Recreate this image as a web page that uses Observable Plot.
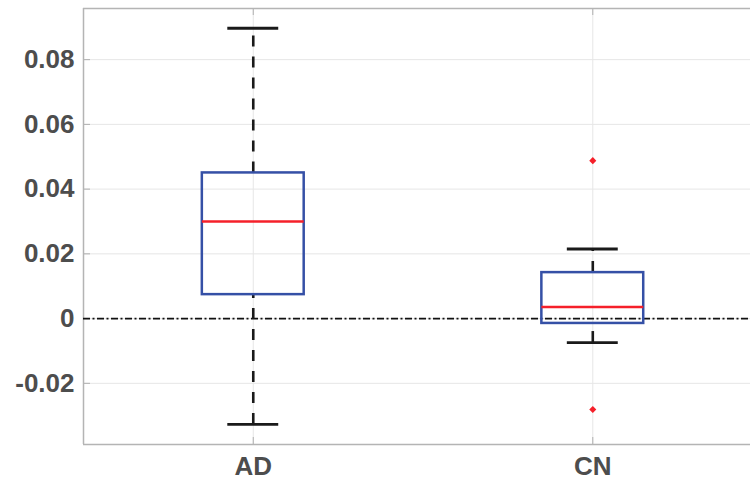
<!DOCTYPE html>
<html>
<head>
<meta charset="utf-8">
<script src="https://cdn.jsdelivr.net/npm/d3@7"></script>
<script src="https://cdn.jsdelivr.net/npm/@observablehq/plot@0.6"></script>
<style>
  html, body { margin: 0; padding: 0; background: #fff; }
  #chart svg { display: block; }
</style>
</head>
<body>
<div id="chart"></div>
<script>
// ---- Data ----
const groups      = ["AD", "CN"];
const positions   = [1, 2];
const whiskerLow  = [-0.0327, -0.0074];
const q1          = [0.0074, -0.0015];
const medians     = [0.0300, 0.0036];
const q3          = [0.0450, 0.0142];
const whiskerHigh = [0.0897, 0.0215];
const outlierGroup = ["CN", "CN"];
const outlierValue = [0.0488, -0.0281];
const yTicks = [-0.02, 0, 0.02, 0.04, 0.06, 0.08];

// ---- Tables built from the arrays ----
const boxes = groups.map((g, i) => ({
  group: g, pos: positions[i], lo: whiskerLow[i], q1: q1[i],
  med: medians[i], q3: q3[i], hi: whiskerHigh[i]
}));
const outliers = outlierGroup.map((g, i) => ({
  pos: positions[groups.indexOf(g)], value: outlierValue[i]
}));

const W = 750, H = 482;
const mL = 83, mR = 0, mT = 8, mB = 38;
const xDomain = [0.5, 2.4645];
const yDomain = [-0.0389, 0.0958];
const boxHalf = 0.15, capHalf = 0.075;
const plotW = W - mL - mR, plotH = H - mT - mB;

const fmt = d => String(+d.toFixed(2));
const font = "'Liberation Sans', Arial, Helvetica, sans-serif";

const chart = Plot.plot({
  width: W, height: H,
  marginLeft: mL, marginRight: mR, marginTop: mT, marginBottom: mB,
  style: { fontFamily: font, background: "#fff", overflow: "visible" },
  x: { type: "linear", domain: xDomain, label: null },
  y: { domain: yDomain, label: null },
  marks: [
    // grid
    Plot.gridY(yTicks, { stroke: "#e6e6e6", strokeOpacity: 1, strokeWidth: 1 }),
    Plot.gridX(positions, { stroke: "#e6e6e6", strokeOpacity: 1, strokeWidth: 1 }),
    // inward ticks
    Plot.tickY(yTicks, { stroke: "#b0b0b0", strokeWidth: 1, insetRight: plotW - 7 }),
    Plot.tickX(positions, { stroke: "#b0b0b0", strokeWidth: 1, insetBottom: plotH - 7 }),
    Plot.tickX(positions, { stroke: "#b0b0b0", strokeWidth: 1, insetTop: plotH - 7 }),
    // frame (left, top, bottom)
    Plot.ruleX([xDomain[0]], { stroke: "#b4b4b4", strokeWidth: 1.5 }),
    Plot.ruleY([yDomain[0]], { stroke: "#b4b4b4", strokeWidth: 1.5 }),
    Plot.ruleY([yDomain[1]], { stroke: "#b4b4b4", strokeWidth: 1.5 }),
    // zero reference line (dash-dot)
    Plot.ruleY([0], { stroke: "#111", strokeWidth: 1.6, strokeDasharray: "7,2.5,2,2.5" }),
    // whiskers (dashed, drawn bottom to top)
    Plot.ruleX(boxes, { x: "pos", y1: "q3", y2: "hi", stroke: "#1a1a1a", strokeWidth: 2.6, strokeDasharray: "11,10" }),
    Plot.ruleX(boxes, { x: "pos", y1: "lo", y2: "q1", stroke: "#1a1a1a", strokeWidth: 2.6, strokeDasharray: "11,10" }),
    // caps
    Plot.ruleY(boxes, { y: "hi", x1: d => d.pos - capHalf, x2: d => d.pos + capHalf, stroke: "#1a1a1a", strokeWidth: 2.8 }),
    Plot.ruleY(boxes, { y: "lo", x1: d => d.pos - capHalf, x2: d => d.pos + capHalf, stroke: "#1a1a1a", strokeWidth: 2.8 }),
    // boxes
    Plot.rect(boxes, { x1: d => d.pos - boxHalf, x2: d => d.pos + boxHalf, y1: "q1", y2: "q3", fill: "none", stroke: "#3550a6", strokeWidth: 2.5 }),
    // medians
    Plot.ruleY(boxes, { y: "med", x1: d => d.pos - boxHalf, x2: d => d.pos + boxHalf, stroke: "#f5202a", strokeWidth: 2.5 }),
    // outliers
    Plot.dot(outliers, { x: "pos", y: "value", r: 3.2, symbol: "diamond2", fill: "#f5202a", stroke: "none" }),
    // axes
    Plot.axisY(yTicks, { tickSize: 0, tickPadding: 9, tickFormat: fmt, fontSize: 26, fontWeight: "bold", fill: "#4d4d4d", label: null }),
    Plot.axisX(positions, { tickSize: 0, tickPadding: 12, tickFormat: d => groups[positions.indexOf(d)], fontSize: 26, fontWeight: "bold", fill: "#4d4d4d", label: null })
  ]
});
document.getElementById("chart").appendChild(chart);
</script>
</body>
</html>
